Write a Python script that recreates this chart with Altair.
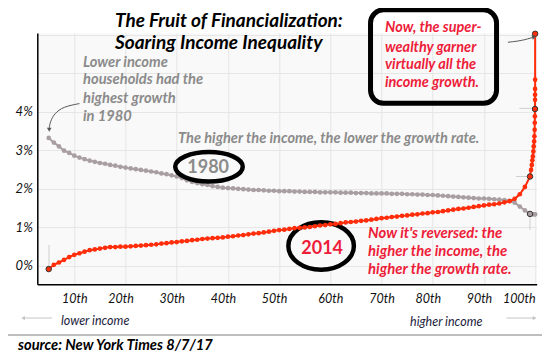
import altair as alt
import pandas as pd

FONT = "Lato"

# ---------------- data ----------------
percentiles = list(range(5, 100))
growth_1980 = [3.32, 3.20, 3.10, 2.99, 2.93,
               2.86, 2.81, 2.77, 2.73, 2.70, 2.67, 2.65, 2.62, 2.60, 2.57,
               2.55, 2.53, 2.51, 2.49, 2.47, 2.45, 2.43, 2.40, 2.38, 2.35,
               2.32, 2.28, 2.22, 2.18, 2.15, 2.12, 2.10, 2.07, 2.05, 2.03,
               2.02, 2.01, 2.00, 1.99, 1.98, 1.97, 1.97, 1.96, 1.95, 1.95,
               1.94, 1.94, 1.94, 1.93, 1.93, 1.92, 1.92, 1.92, 1.91, 1.91,
               1.91, 1.91, 1.90, 1.90, 1.90, 1.89, 1.89, 1.89, 1.88, 1.88,
               1.88, 1.88, 1.87, 1.87, 1.87, 1.86, 1.86, 1.85, 1.85, 1.84,
               1.84, 1.83, 1.82, 1.81, 1.80, 1.79, 1.78, 1.77, 1.76, 1.75,
               1.75, 1.74, 1.73, 1.72, 1.71, 1.69, 1.64, 1.54, 1.44, 1.35]
growth_2014 = [-0.08, 0.03, 0.09, 0.16, 0.23,
               0.29, 0.33, 0.37, 0.41, 0.43, 0.45, 0.47, 0.49, 0.49, 0.50,
               0.50, 0.51, 0.52, 0.53, 0.54, 0.55, 0.56, 0.58, 0.59, 0.61,
               0.62, 0.64, 0.65, 0.67, 0.68, 0.70, 0.71, 0.72, 0.73, 0.74,
               0.76, 0.77, 0.79, 0.80, 0.82, 0.84, 0.85, 0.87, 0.89, 0.91,
               0.93, 0.94, 0.96, 0.98, 0.99, 1.00, 1.01, 1.03, 1.05, 1.06,
               1.08, 1.09, 1.11, 1.13, 1.14, 1.15, 1.17, 1.18, 1.20, 1.22,
               1.24, 1.25, 1.27, 1.28, 1.30, 1.31, 1.33, 1.34, 1.36, 1.37,
               1.39, 1.40, 1.42, 1.44, 1.46, 1.48, 1.49, 1.51, 1.53, 1.55,
               1.57, 1.59, 1.60, 1.62, 1.65, 1.68, 1.74, 1.86, 2.05, 2.32]
# top 1% broken down further
top_pct_2014 = [99.2, 99.35, 99.45, 99.55, 99.65, 99.72, 99.8, 99.85, 99.9,
                99.93, 99.95, 99.97, 99.98, 99.985, 99.99, 99.995, 100.0]
top_growth_2014 = [2.49, 2.62, 2.74, 2.84, 2.97, 3.10, 3.23, 3.36, 3.53,
                   3.71, 3.88, 4.07, 4.31, 4.44, 4.59, 4.83, 6.02]
top_pct_1980 = [99.5, 99.9, 100.0]
top_growth_1980 = [1.34, 1.34, 1.34]

# highlighted points
hl_pct = [5, 99, 99.97, 100.0, 99]
hl_val = [-0.08, 2.32, 4.07, 6.02, 1.35]
hl_fill = ["#ff2d0a", "#ff2d0a", "#ff2d0a", "#ff2d0a", "#a99fa3"]

x_tick_values = [10, 20, 30, 40, 50, 60, 70, 80, 90, 100]
y_tick_values = [0, 1, 2, 3, 4, 5, 6]

# annotation texts (bold italic)
bi_text = ["The Fruit of Financialization:", "Soaring Income Inequality",
           "Lower income", "households had the", "highest growth", "in 1980",
           "The higher the income, the lower the growth rate.",
           "Now it's reversed: the", "higher the income, the", "higher the growth rate.",
           "Now, the super-", "wealthy garner", "virtually all the", "income growth.",
           "source: New York Times  8/7/17"]
bi_x = [17.95, 17.95, 11.7, 11.7, 11.7, 11.7, 30.25, 67.37, 67.37, 67.37,
        70.67, 70.67, 70.67, 70.67, -1.0]
bi_y = [6.36, 5.79, 5.27, 4.81, 4.34, 3.87, 3.30, 0.83, 0.36, -0.10,
        6.16, 5.66, 5.22, 4.75, -2.08]
bi_color = ["#000000", "#000000", "#8b8b8b", "#8b8b8b", "#8b8b8b", "#8b8b8b", "#8b8b8b",
            "#ee1d3a", "#ee1d3a", "#ee1d3a", "#ee1d3a", "#ee1d3a", "#ee1d3a", "#ee1d3a",
            "#000000"]
bi_size = [19, 19, 14.7, 14.7, 14.7, 14.7, 14.6, 14.9, 14.9, 14.9,
           14.5, 14.5, 14.5, 14.5, 14.7]

# year labels (bold)
year_text = ["1980", "2014"]
year_x = [36.14, 58.4]
year_y = [2.545, 0.44]
year_color = ["#8b8b8b", "#ee1d3a"]

# direction labels (italic)
dir_text = ["lower income", "higher income"]
dir_x = [7.40, 75.57]
dir_y = [-1.43, -1.45]

# ellipses around the year labels
ell_x = [36.3, 58.2]
ell_y = [2.57, 0.52]

# box around the top-right text
box_x, box_x2 = [67.85], [92.46]
box_y, box_y2 = [6.64], [4.22]

# thin leader lines
lead_x = [5.06, 96.3, 96.9, 99.0]
lead_x2 = [5.06, 98.8, 99.3, 99.0]
lead_y = [0.545, 2.32, 4.085, 1.27]
lead_y2 = [-0.02, 2.32, 4.085, 0.935]

# curved arrows
arrow1_x = [11.0, 7.84, 6.08, 5.3, 5.1]
arrow1_y = [4.21, 4.13, 3.95, 3.74, 3.58]
arrow2_x = [94.68, 97.4, 99.75]
arrow2_y = [5.80, 5.84, 5.935]
head_x = [5.1, 99.8]
head_y = [3.53, 5.94]
head_angle = [180, 75]

# bottom direction arrows and separator
barrow_x = [5.64, 94.4]
barrow_x2 = [0.2, 99.7]
barrow_y = [-1.35, -1.35]
bhead_x = [0.0, 99.9]
bhead_shape = ["triangle-left", "triangle-right"]
sep_x, sep_x2, sep_y = [-3.0], [101.5], [-1.79]

# ---------------- scales / axes ----------------
xs = alt.Scale(domain=[2.77, 100.3], nice=False, zero=False)
ys = alt.Scale(domain=[-0.475, 6.04], nice=False, zero=False)

xaxis = alt.Axis(values=x_tick_values, labelExpr="datum.value + 'th'", title=None,
                 grid=True, gridColor="#e6e6e6", ticks=False, domainColor="#000",
                 domainWidth=1.5, labelFont=FONT, labelFontStyle="italic",
                 labelFontSize=12.5, labelColor="#111", labelPadding=8,
                 labelOverlap=False, labelFlush=False, labelBound=False,
                 labelOffset={"condition": {"test": "datum.value == 10 || datum.value == 60 || datum.value == 70 || datum.value == 100", "value": 0}, "value": -5},
                 labelAlign={"condition": {"test": "datum.value == 100", "value": "right"}, "value": "center"})
yaxis = alt.Axis(values=y_tick_values,
                 labelExpr="datum.value <= 4 ? datum.value + '%' : ''", title=None,
                 grid=True, gridColor="#e6e6e6", ticks=False, domainColor="#000",
                 domainWidth=1.5, labelFont=FONT, labelFontStyle="italic",
                 labelFontSize=13, labelColor="#111", labelPadding=5)


def X(f):
    return alt.X(f, type="quantitative", scale=xs, axis=xaxis)


def Y(f):
    return alt.Y(f, type="quantitative", scale=ys, axis=yaxis)


def ellipse_path(ratio):
    k = 0.5523
    b = ratio
    return (f"M-1,0 C-1,{-b*k:.4f} {-k},{-b:.4f} 0,{-b:.4f} C{k},{-b:.4f} 1,{-b*k:.4f} 1,0 "
            f"C1,{b*k:.4f} {k},{b:.4f} 0,{b:.4f} C{-k},{b:.4f} -1,{b*k:.4f} -1,0 Z")


# ---------------- frames ----------------
df80 = pd.DataFrame({"p": percentiles + top_pct_1980, "v": growth_1980 + top_growth_1980})
df14 = pd.DataFrame({"p": percentiles + top_pct_2014, "v": growth_2014 + top_growth_2014})
dfhl = pd.DataFrame({"p": hl_pct, "v": hl_val, "c": hl_fill})
dfbi = pd.DataFrame({"p": bi_x, "v": bi_y, "t": bi_text, "c": bi_color, "s": bi_size})
dfyr = pd.DataFrame({"p": year_x, "v": year_y, "t": year_text, "c": year_color})
dfdir = pd.DataFrame({"p": dir_x, "v": dir_y, "t": dir_text})
dflead = pd.DataFrame({"p": lead_x, "p2": lead_x2, "v": lead_y, "v2": lead_y2})
dfa1 = pd.DataFrame({"p": arrow1_x, "v": arrow1_y})
dfa2 = pd.DataFrame({"p": arrow2_x, "v": arrow2_y})
dfhead = pd.DataFrame({"p": head_x, "v": head_y, "a": head_angle})
dfbar = pd.DataFrame({"p": barrow_x, "p2": barrow_x2, "v": barrow_y})
dfbh = pd.DataFrame({"p": bhead_x, "v": barrow_y, "s": bhead_shape})
dfsep = pd.DataFrame({"p": sep_x, "p2": sep_x2, "v": sep_y})
dfbox = pd.DataFrame({"p": box_x, "p2": box_x2, "v": box_y, "v2": box_y2})

RED = "#ff2d0a"
GRAY = "#a99fa3"

leaders = alt.Chart(dflead).mark_rule(color="#cfcfcf", strokeWidth=1).encode(
    x=X("p"), x2="p2", y=Y("v"), y2="v2")

ell2014 = alt.Chart(pd.DataFrame({"p": [ell_x[1]], "v": [ell_y[1]]})).mark_point(
    shape=ellipse_path(47.5 / 65.5), size=65.5 ** 2, fill="#f9f9f9", fillOpacity=1,
    stroke="#000", strokeWidth=4.5, opacity=1, filled=True).encode(x=X("p"), y=Y("v"))

line80 = alt.Chart(df80).mark_line(color=GRAY, strokeWidth=2).encode(x=X("p"), y=Y("v"))
pts80 = alt.Chart(df80).mark_circle(color=GRAY, size=22, opacity=1).encode(x=X("p"), y=Y("v"))
line14 = alt.Chart(df14).mark_line(color=RED, strokeWidth=2).encode(x=X("p"), y=Y("v"))
pts14 = alt.Chart(df14).mark_circle(color=RED, size=22, opacity=1).encode(x=X("p"), y=Y("v"))
hl = alt.Chart(dfhl).mark_point(filled=True, size=30, stroke="#333", strokeWidth=1,
                                 opacity=1).encode(
    x=X("p"), y=Y("v"), fill=alt.Fill("c:N", scale=None))

ell1980 = alt.Chart(pd.DataFrame({"p": [ell_x[0]], "v": [ell_y[0]]})).mark_point(
    shape=ellipse_path(29.5 / 67.5), size=67.5 ** 2, fill="#f9f9f9", fillOpacity=1,
    stroke="#000", strokeWidth=4.5, opacity=1, filled=True).encode(x=X("p"), y=Y("v"))

box = alt.Chart(dfbox).mark_rect(cornerRadius=13, fillOpacity=0, stroke="#000",
                                 strokeWidth=5).encode(x=X("p"), x2="p2", y=Y("v"), y2="v2")

arrow1 = alt.Chart(dfa1).mark_line(color="#555", strokeWidth=1, interpolate="basis").encode(
    x=X("p"), y=Y("v"))
arrow2 = alt.Chart(dfa2).mark_line(color="#555", strokeWidth=1, interpolate="basis").encode(
    x=X("p"), y=Y("v"))
heads = alt.Chart(dfhead).mark_point(shape="triangle-up", filled=True, size=22,
                                      color="#555", opacity=1).encode(
    x=X("p"), y=Y("v"), angle=alt.Angle("a:Q", scale=None))

barrows = alt.Chart(dfbar).mark_rule(color="#c4c4c4", strokeWidth=1).encode(
    x=X("p"), x2="p2", y=Y("v"))
bheads = alt.Chart(dfbh).mark_point(filled=True, size=18, color="#c4c4c4", opacity=1).encode(
    x=X("p"), y=Y("v"), shape=alt.Shape("s:N", scale=None))
sep = alt.Chart(dfsep).mark_rule(color="#a8a8a8", strokeWidth=1.5).encode(
    x=X("p"), x2="p2", y=Y("v"))

txt_bi = alt.Chart(dfbi).mark_text(font=FONT, fontStyle="italic", fontWeight="bold",
                                   align="left", baseline="middle").encode(
    x=X("p"), y=Y("v"), text="t:N", color=alt.Color("c:N", scale=None),
    size=alt.Size("s:Q", scale=None))
txt_yr = alt.Chart(dfyr).mark_text(font=FONT, fontWeight="bold", fontSize=18,
                                   align="center", baseline="middle").encode(
    x=X("p"), y=Y("v"), text="t:N", color=alt.Color("c:N", scale=None))
txt_dir = alt.Chart(dfdir).mark_text(font=FONT, fontStyle="italic", fontSize=12.5,
                                     color="#1c1c3c", align="left", baseline="middle").encode(
    x=X("p"), y=Y("v"), text="t:N")

chart = alt.layer(
    leaders, ell2014, line80, pts80, line14, pts14, hl, ell1980, box,
    arrow1, arrow2, heads, barrows, bheads, sep, txt_bi, txt_yr, txt_dir
).properties(
    width=499.4, height=251.3,
    padding={"left": 29.3, "top": 25, "right": 5, "bottom": 71},
    autosize=alt.AutoSizeParams(type="none"),
    background="white",
).configure_view(fill="#f9f9f9", stroke=None)

chart.save("out.html", embed_options={"renderer": "svg", "actions": False})
